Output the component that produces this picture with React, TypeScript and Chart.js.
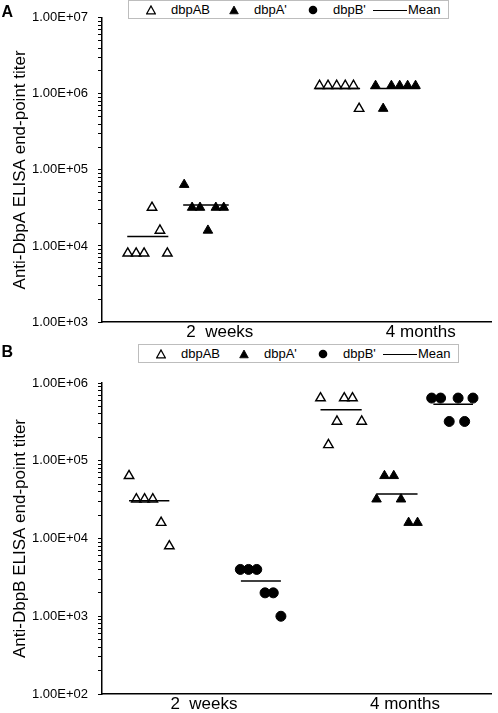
import React, { useEffect, useRef } from "react";
import { Chart, registerables } from "chart.js";
Chart.register(...registerables);

const FONT = "Arial, 'Liberation Sans', Helvetica, sans-serif";

const categoryLabels = ["2  weeks", "4 months"];
const categoryPositions = [1, 2];
const seriesNames = ["dbpAB", "dbpA'", "dbpB'", "Mean"];

// ---------- Panel A : anti-DbpA titers ----------
const aTitle = "Anti-DbpA ELISA end-point titer";
const aYRange = [1e3, 1e7];
const aXRange = [0.4138, 2.3498];
const aDbpAB2wX = [0.5419, 0.5838, 0.6232, 0.6626, 0.7020, 0.7389];
const aDbpAB2wY = [8000, 8000, 8000, 32000, 16000, 8000];
const aDbpA2wX = [0.8227, 0.8621, 0.9015, 0.9409, 0.9803, 1.0197];
const aDbpA2wY = [64000, 32000, 32000, 16000, 32000, 32000];
const aDbpAB4mX = [1.4961, 1.5384, 1.5813, 1.6241, 1.665, 1.6931];
const aDbpAB4mY = [1280000, 1280000, 1280000, 1280000, 1280000, 640000];
const aDbpA4mX = [1.7749, 1.8128, 1.8537, 1.8951, 1.9345, 1.9739];
const aDbpA4mY = [1280000, 640000, 1280000, 1280000, 1280000, 1280000];
const aMeanStart = [0.5394, 0.8177, 1.4729, 1.7488];
const aMeanEnd = [0.7438, 1.0443, 1.698, 1.9951];

// ---------- Panel B : anti-DbpB titers ----------
const bTitle = "Anti-DbpB ELISA end-point titer";
const bYRange = [1e2, 1e6];
const bXRange = [0.4926, 2.4286];
const bDbpAB2wX = [0.6271, 0.6635, 0.7044, 0.7453, 0.7867, 0.8276];
const bDbpAB2wY = [64000, 32000, 32000, 32000, 16000, 8000];
const bDbpB2wX = [1.1808, 1.2217, 1.2626, 1.3039, 1.3448, 1.3828];
const bDbpB2wY = [4000, 4000, 4000, 2000, 2000, 1000];
const bDbpAB4mX = [1.5798, 1.6192, 1.6616, 1.698, 1.7389, 1.7847];
const bDbpAB4mY = [640000, 160000, 320000, 640000, 640000, 320000];
const bDbpA4mX = [1.8586, 1.898, 1.9443, 1.9803, 2.0182, 2.0626];
const bDbpA4mY = [32000, 64000, 64000, 32000, 16000, 16000];
const bDbpB4mX = [2.133, 2.1773, 2.2202, 2.2645, 2.297, 2.3384];
const bDbpB4mY = [640000, 640000, 320000, 640000, 320000, 640000];
const bMeanStart = [0.6271, 1.1837, 1.5798, 1.8586, 2.1414];
const bMeanEnd = [0.8276, 1.3828, 1.7847, 2.0626, 2.3384];

type Group = { series: number; x: number[]; y: number[] };

const aGroups: Group[] = [
  { series: 0, x: aDbpAB2wX, y: aDbpAB2wY },
  { series: 1, x: aDbpA2wX, y: aDbpA2wY },
  { series: 0, x: aDbpAB4mX, y: aDbpAB4mY },
  { series: 1, x: aDbpA4mX, y: aDbpA4mY },
];
const bGroups: Group[] = [
  { series: 0, x: bDbpAB2wX, y: bDbpAB2wY },
  { series: 2, x: bDbpB2wX, y: bDbpB2wY },
  { series: 0, x: bDbpAB4mX, y: bDbpAB4mY },
  { series: 1, x: bDbpA4mX, y: bDbpA4mY },
  { series: 2, x: bDbpB4mX, y: bDbpB4mY },
];

const seriesStyle = [
  { pointStyle: "triangle", pointRadius: 5.5, pointBackgroundColor: "#ffffff", pointBorderColor: "#000000", pointBorderWidth: 1.4 },
  { pointStyle: "triangle", pointRadius: 5.5, pointBackgroundColor: "#000000", pointBorderColor: "#000000", pointBorderWidth: 1 },
  { pointStyle: "circle", pointRadius: 5, pointBackgroundColor: "#000000", pointBorderColor: "#000000", pointBorderWidth: 1 },
];

function mean(v: number[]) {
  return v.reduce((s, a) => s + a, 0) / v.length;
}

function logTicks(min: number, max: number) {
  const out: { value: number; major: boolean }[] = [];
  for (let e = Math.round(Math.log10(min)); e < Math.round(Math.log10(max)); e++) {
    for (let m = 1; m <= 9; m++) out.push({ value: m * Math.pow(10, e), major: m === 1 });
  }
  out.push({ value: max, major: true });
  return out;
}

function sci(v: number) {
  const e = Math.round(Math.log10(v));
  return "1.00E+" + (e < 10 ? "0" : "") + e;
}

type PanelProps = {
  top: number;
  height: number;
  padTop: number;
  xHeight: number;
  title: string;
  yRange: number[];
  xRange: number[];
  groups: Group[];
  meanStart: number[];
  meanEnd: number[];
};

function Panel(p: PanelProps) {
  const ref = useRef<HTMLCanvasElement | null>(null);
  useEffect(() => {
    if (!ref.current) return;
    const meanSets = p.groups.map((g, i) => ({
      data: [
        { x: p.meanStart[i], y: mean(g.y) },
        { x: p.meanEnd[i], y: mean(g.y) },
      ],
      showLine: true,
      borderColor: "#000000",
      borderWidth: 1.5,
      pointRadius: 0,
    }));
    const markerSets = p.groups.map((g) => ({
      data: g.x.map((x, i) => ({ x, y: g.y[i] })),
      showLine: false,
      ...seriesStyle[g.series],
    }));
    const chart = new Chart(ref.current, {
      type: "scatter",
      data: { datasets: [...meanSets, ...markerSets] as any },
      options: {
        animation: false,
        responsive: false,
        maintainAspectRatio: false,
        devicePixelRatio: 1,
        layout: { padding: { top: p.padTop, right: 3, bottom: 0, left: 0 } },
        plugins: { legend: { display: false }, tooltip: { enabled: false } },
        scales: {
          x: {
            type: "linear",
            min: p.xRange[0],
            max: p.xRange[1],
            grid: { display: false },
            border: { display: true, color: "#000000", width: 1.5 },
            ticks: {
              autoSkip: false,
              maxRotation: 0,
              color: "#000000",
              padding: -8,
              font: { family: FONT, size: 17 },
              callback: (_v: any, i: number) => categoryLabels[i],
            },
            afterBuildTicks: (s: any) => {
              s.ticks = categoryPositions.map((v) => ({ value: v }));
            },
            afterFit: (s: any) => {
              s.height = p.xHeight;
            },
          },
          y: {
            type: "logarithmic",
            min: p.yRange[0],
            max: p.yRange[1],
            grid: { drawOnChartArea: false, drawTicks: true, tickLength: 4, color: "#000000", lineWidth: 1 },
            border: { display: true, color: "#000000", width: 1.5 },
            ticks: {
              autoSkip: false,
              color: "#000000",
              padding: 10,
              font: { family: FONT, size: 13 },
              callback: (v: any) => {
                const l = Math.log10(Number(v));
                return Math.abs(l - Math.round(l)) < 1e-9 ? sci(Number(v)) : "";
              },
            },
            title: {
              display: true,
              text: p.title,
              color: "#000000",
              font: { family: FONT, size: 17 },
              padding: { top: 10, bottom: 0 },
            },
            afterBuildTicks: (s: any) => {
              s.ticks = logTicks(p.yRange[0], p.yRange[1]);
            },
            afterFit: (s: any) => {
              s.width = 102;
            },
          },
        },
      } as any,
    });
    return () => chart.destroy();
  }, []);
  return (
    <canvas
      ref={ref}
      width={498}
      height={p.height}
      style={{ position: "absolute", left: 0, top: p.top, width: 498, height: p.height, display: "block" }}
    />
  );
}

function MarkerIcon({ kind }: { kind: number }) {
  if (kind === 2)
    return (
      <svg width="10" height="10" style={{ display: "block" }}>
        <circle cx="5" cy="5" r="4.3" fill="#000" />
      </svg>
    );
  return (
    <svg width="10" height="10" style={{ display: "block" }}>
      <polygon
        points="5,1 9.3,8.8 0.7,8.8"
        fill={kind === 0 ? "#fff" : "#000"}
        stroke="#000"
        strokeWidth={kind === 0 ? 1.3 : 0.8}
      />
    </svg>
  );
}

function Legend({ left, top }: { left: number; top: number }) {
  const markerX = [22, 105, 184];
  const textX = [42, 125, 204, 279];
  const txt: React.CSSProperties = {
    position: "absolute",
    top: 0,
    lineHeight: "18px",
    fontFamily: FONT,
    fontSize: 13,
    color: "#000",
    whiteSpace: "nowrap",
  };
  return (
    <div
      style={{
        position: "absolute",
        left,
        top,
        width: 321,
        height: 19,
        border: "1px solid #bdbdbd",
        boxSizing: "border-box",
        background: "#fff",
      }}
    >
      {markerX.map((mx, i) => (
        <div key={"m" + i} style={{ position: "absolute", left: mx - 5, top: 4 }}>
          <MarkerIcon kind={i} />
        </div>
      ))}
      {seriesNames.map((n, i) => (
        <div key={"t" + i} style={{ ...txt, left: textX[i] }}>
          {n}
        </div>
      ))}
      <div style={{ position: "absolute", left: 244, top: 8.5, width: 34, height: 1.5, background: "#000" }} />
    </div>
  );
}

const letterStyle: React.CSSProperties = {
  position: "absolute",
  left: 1.5,
  fontFamily: FONT,
  fontWeight: "bold",
  fontSize: 16,
  lineHeight: "16px",
  color: "#000",
};

export default function App() {
  return (
    <div style={{ position: "absolute", left: 0, top: 0, width: 498, height: 713, background: "#fff", overflow: "hidden" }}>
      <Panel
        top={0}
        height={345}
        padTop={10}
        xHeight={23}
        title={aTitle}
        yRange={aYRange}
        xRange={aXRange}
        groups={aGroups}
        meanStart={aMeanStart}
        meanEnd={aMeanEnd}
      />
      <Panel
        top={340}
        height={373}
        padTop={43}
        xHeight={19}
        title={bTitle}
        yRange={bYRange}
        xRange={bXRange}
        groups={bGroups}
        meanStart={bMeanStart}
        meanEnd={bMeanEnd}
      />
      <Legend left={128} top={0} />
      <Legend left={138} top={344} />
      <div style={{ ...letterStyle, top: 4 }}>A</div>
      <div style={{ ...letterStyle, top: 344 }}>B</div>
    </div>
  );
}
